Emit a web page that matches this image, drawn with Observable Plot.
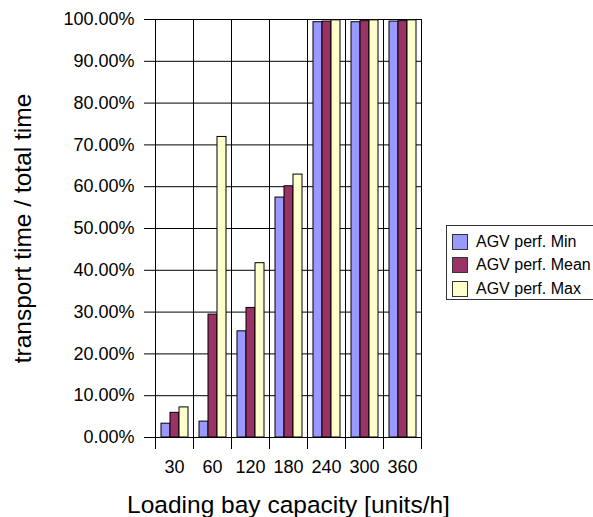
<!DOCTYPE html>
<html>
<head>
<meta charset="utf-8">
<script src="https://cdn.jsdelivr.net/npm/d3@7"></script>
<script src="https://cdn.jsdelivr.net/npm/@observablehq/plot@0.6"></script>
<style>
  body { margin: 0; background: #fff; }
  #wrap { position: relative; width: 593px; height: 517px; overflow: hidden; font-family: "Liberation Sans", Arial, sans-serif; }
  #legend { position: absolute; left: 446px; top: 225px; width: 160px; height: 75px; border: 1px solid #333; box-sizing: border-box; background: #fff; }
  .row { position: absolute; left: 5px; height: 16px; display: flex; align-items: center; font-size: 16px; color: #000; white-space: nowrap; }
  .sw { width: 14px; height: 14px; border: 1px solid #333; margin-right: 8px; }
</style>
</head>
<body>
<div id="wrap"></div>
<script>
const capacities = ["30", "60", "120", "180", "240", "300", "360"];
const seriesNames = ["AGV perf. Min", "AGV perf. Mean", "AGV perf. Max"];
const seriesColors = ["#9999FF", "#993366", "#FFFFCC"];
const minValues  = [0.033, 0.038, 0.254, 0.574, 0.9935, 0.9935, 0.995];
const meanValues = [0.059, 0.294, 0.310, 0.601, 0.995, 0.996, 0.996];
const maxValues  = [0.072, 0.719, 0.417, 0.629, 0.998, 0.998, 0.998];
const yTicks = [0, 0.1, 0.2, 0.3, 0.4, 0.5, 0.6, 0.7, 0.8, 0.9, 1.0];

const seriesValues = [minValues, meanValues, maxValues];
const data = [];
capacities.forEach((c, i) => {
  seriesNames.forEach((s, j) => data.push({cap: c, series: s, value: seriesValues[j][i]}));
});

const chart = Plot.plot({
  width: 593,
  height: 517,
  marginLeft: 153,
  marginRight: 170,
  marginTop: 19,
  marginBottom: 80,
  style: {fontFamily: "'Liberation Sans', Arial, sans-serif", background: "#fff"},
  fx: {domain: capacities, padding: 0},
  x: {domain: seriesNames, paddingInner: 0, paddingOuter: 0.54, axis: null},
  y: {domain: [0, 1]},
  color: {domain: seriesNames, range: seriesColors},
  marks: [
    Plot.ruleY(yTicks, {stroke: "#000", strokeWidth: 1}),
    Plot.barY(data, {fx: "cap", x: "series", y: "value", fill: "series", stroke: "#000", strokeWidth: 1}),
    Plot.frame({anchor: "left", insetBottom: -11, stroke: "#000"}),
    Plot.frame({anchor: "right", insetBottom: -11, stroke: "#000"}),
    Plot.axisY({ticks: yTicks, tickFormat: d3.format(".2%"), tickSize: 11, tickPadding: 10, fontSize: 18, label: null, stroke: "#000"}),
    Plot.axisY({ticks: [], label: "transport time / total time", labelArrow: "none", labelAnchor: "center", labelOffset: 142, fontSize: 24.5}),
    Plot.axisFx({anchor: "bottom", tickSize: 0, tickPadding: 23, fontSize: 18, label: null}),
    Plot.axisFx({anchor: "bottom", ticks: [], label: "Loading bay capacity [units/h]", labelArrow: "none", labelAnchor: "center", labelOffset: 75, fontSize: 24.5})
  ]
});

const wrap = document.getElementById("wrap");
wrap.appendChild(chart);

const legend = document.createElement("div");
legend.id = "legend";
seriesNames.forEach((s, j) => {
  const row = document.createElement("div");
  row.className = "row";
  row.style.top = (8 + j * 23.3) + "px";
  const sw = document.createElement("div");
  sw.className = "sw";
  sw.style.background = seriesColors[j];
  const t = document.createElement("span");
  t.textContent = s;
  row.appendChild(sw);
  row.appendChild(t);
  legend.appendChild(row);
});
wrap.appendChild(legend);
</script>
</body>
</html>
